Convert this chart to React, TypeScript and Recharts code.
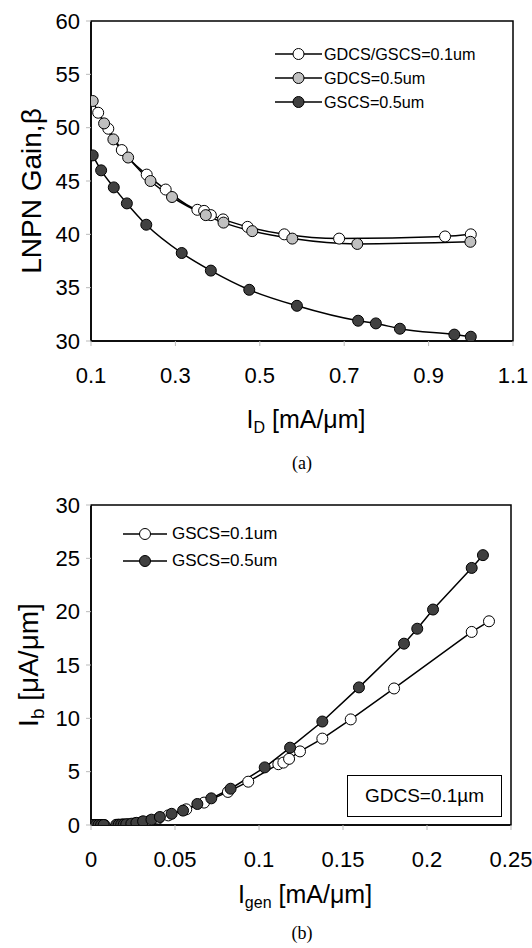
import React from 'react';
import { LineChart, Line, XAxis, YAxis, ReferenceArea, Legend } from 'recharts';

// ---------- Chart (a) data ----------
const aWhiteX = [0.117, 0.141, 0.173, 0.232, 0.277, 0.352, 0.368, 0.384, 0.413, 0.471, 0.558, 0.688, 0.939, 1.0];
const aWhiteY = [51.4, 49.9, 47.9, 45.6, 44.2, 42.3, 42.2, 41.8, 41.4, 40.7, 40.0, 39.6, 39.8, 40.0];
const aGrayX = [0.104, 0.131, 0.153, 0.188, 0.241, 0.292, 0.372, 0.414, 0.482, 0.577, 0.731, 0.999];
const aGrayY = [52.5, 50.4, 48.9, 47.2, 45.0, 43.5, 41.8, 41.1, 40.3, 39.6, 39.1, 39.3];
const aDarkX = [0.104, 0.124, 0.154, 0.185, 0.231, 0.315, 0.384, 0.475, 0.588, 0.733, 0.775, 0.832, 0.961, 1.0];
const aDarkY = [47.4, 46.0, 44.4, 42.9, 40.9, 38.25, 36.6, 34.8, 33.3, 31.9, 31.65, 31.15, 30.6, 30.4];
const aXTicks = [0.1, 0.3, 0.5, 0.7, 0.9, 1.1];
const aYTicks = [30, 35, 40, 45, 50, 55, 60];
const aLegend = ['GDCS/GSCS=0.1um', 'GDCS=0.5um', 'GSCS=0.5um'];

// ---------- Chart (b) data ----------
const bWhiteX = [0, 0.002, 0.004, 0.006, 0.008, 0.016, 0.019, 0.022, 0.026, 0.030, 0.035, 0.040, 0.046, 0.0567, 0.0673, 0.0815, 0.0936, 0.1115, 0.1145, 0.1179, 0.1244, 0.1377, 0.1546, 0.1804, 0.2266, 0.2369];
const bWhiteY = [0, 0, 0, 0, 0, 0.02, 0.04, 0.07, 0.15, 0.25, 0.4, 0.6, 0.9, 1.47, 2.1, 3.1, 4.06, 5.7, 5.85, 6.2, 6.9, 8.1, 9.9, 12.8, 18.1, 19.1];
const bDarkX = [0, 0.0015, 0.003, 0.0045, 0.006, 0.0075, 0.015, 0.0165, 0.018, 0.0195, 0.021, 0.024, 0.027, 0.031, 0.036, 0.041, 0.048, 0.0548, 0.0633, 0.0716, 0.0831, 0.1034, 0.1185, 0.1377, 0.1595, 0.1863, 0.1942, 0.2036, 0.2266, 0.2333];
const bDarkY = [0, 0, 0, 0, 0, 0, 0.02, 0.03, 0.04, 0.05, 0.07, 0.12, 0.2, 0.35, 0.5, 0.75, 1.05, 1.35, 1.97, 2.5, 3.4, 5.4, 7.25, 9.7, 12.9, 17.0, 18.4, 20.2, 24.1, 25.3];
const bXTicks = [0, 0.05, 0.1, 0.15, 0.2, 0.25];
const bYTicks = [0, 5, 10, 15, 20, 25, 30];
const bLegend = ['GSCS=0.1um', 'GSCS=0.5um'];
const bNote = 'GDCS=0.1\u00b5m';

const zip = (xs: number[], ys: number[]) => xs.map((x, i) => ({ x, y: ys[i] }));

const FONT = '"Liberation Sans", Arial, sans-serif';
const SERIF = '"Liberation Serif", "Times New Roman", serif';
const WHITE = '#ffffff';
const GRAY = '#c0c0c0';
const DARK = '#404040';

const xTickStyle = { fontSize: 22, fill: '#000', fontFamily: FONT };
const yTickStyle = { fontSize: 22, fill: '#000', fontFamily: FONT };

function LegendBox({ items, fills, lineW, gap, rowH, fontSize }: any) {
  return (
    <div style={{ fontFamily: FONT, fontSize, color: '#000' }}>
      {items.map((t: string, i: number) => (
        <div key={t} style={{ display: 'flex', alignItems: 'center', height: rowH }}>
          <svg width={lineW} height={14} style={{ display: 'block' }}>
            <line x1={0} y1={7} x2={lineW} y2={7} stroke="#000" strokeWidth={1.5} />
            <circle cx={lineW / 2} cy={7} r={5.5} fill={fills[i]} stroke="#000" strokeWidth={1} />
          </svg>
          <span style={{ marginLeft: gap, whiteSpace: 'nowrap' }}>{t}</span>
        </div>
      ))}
    </div>
  );
}

function XTitle({ viewBox, main, sub, rest, dy }: any) {
  const cx = viewBox.x + viewBox.width / 2 + 4;
  const y = viewBox.y + dy;
  return (
    <text x={cx} y={y} textAnchor="middle" fontFamily={FONT} fontSize={25} fill="#000">
      {main}
      {sub ? <tspan fontSize={16} dy={5}>{sub}</tspan> : null}
      {sub ? <tspan dy={-5}>{rest}</tspan> : <tspan>{rest}</tspan>}
    </text>
  );
}

function YTitle({ viewBox, main, sub, rest, cx, cyOff }: any) {
  const cy = viewBox.y + viewBox.height / 2 + cyOff;
  return (
    <text x={0} y={0} transform={`translate(${cx},${cy}) rotate(-90)`} textAnchor="middle" fontFamily={FONT} fontSize={28} fill="#000">
      {main}
      {sub ? <tspan fontSize={19} dy={6}>{sub}</tspan> : null}
      {sub ? <tspan dy={-6}>{rest}</tspan> : <tspan>{rest}</tspan>}
    </text>
  );
}

const dotStyle = (fill: string) => ({ r: 5.5, fill, stroke: '#000', strokeWidth: 1 });

export default function App() {
  return (
    <div style={{ position: 'absolute', left: 0, top: 0, width: 532, height: 948, background: '#fff' }}>
      {/* Chart (a) */}
      <div style={{ position: 'absolute', left: 0, top: 0 }}>
        <LineChart width={532} height={450} margin={{ top: 21, right: 19, left: 0, bottom: 19 }}>
          <XAxis
            type="number"
            dataKey="x"
            domain={[0.1, 1.1]}
            ticks={aXTicks}
            tickFormatter={(v: number) => String(Math.round(v * 10) / 10)}
            height={90}
            tick={xTickStyle}
            tickSize={5}
            tickMargin={21}
            tickLine={{ stroke: '#bbb' }}
            axisLine={{ stroke: '#000', strokeWidth: 1.5 }}
            allowDataOverflow
            label={{ content: (p: any) => <XTitle viewBox={p.viewBox} main="I" sub="D" rest=" [mA/μm]" dy={87} /> }}
          />
          <YAxis
            type="number"
            dataKey="y"
            domain={[30, 60]}
            ticks={aYTicks}
            width={91}
            tick={yTickStyle}
            tickSize={5}
            tickMargin={6}
            tickLine={{ stroke: '#bbb' }}
            axisLine={{ stroke: '#000', strokeWidth: 1.5 }}
            allowDataOverflow
            label={{ content: (p: any) => <YTitle viewBox={p.viewBox} main="LNPN Gain,β" cx={41} cyOff={10} /> }}
          />
          <ReferenceArea x1={0.1} x2={1.1} y1={30} y2={60} fill="none" stroke="#000" strokeWidth={1.5} />
          <Line data={zip(aWhiteX, aWhiteY)} dataKey="y" type="monotone" stroke="#000" strokeWidth={1.5} dot={dotStyle(WHITE)} isAnimationActive={false} />
          <Line data={zip(aGrayX, aGrayY)} dataKey="y" type="monotone" stroke="#000" strokeWidth={1.5} dot={dotStyle(GRAY)} isAnimationActive={false} />
          <Line data={zip(aDarkX, aDarkY)} dataKey="y" type="monotone" stroke="#000" strokeWidth={1.5} dot={dotStyle(DARK)} isAnimationActive={false} />
          <Legend
            layout="horizontal"
            verticalAlign="middle"
            wrapperStyle={{ left: 275, top: 42, width: 'auto' }}
            content={() => <LegendBox items={aLegend} fills={[WHITE, GRAY, DARK]} lineW={47} gap={2} rowH={24} fontSize={16.2} />}
          />
        </LineChart>
      </div>
      <div style={{ position: 'absolute', left: 0, width: 532, top: 453, textAlign: 'center', fontFamily: SERIF, fontSize: 18, paddingLeft: 72, boxSizing: 'border-box' }}>
        (a)
      </div>

      {/* Chart (b) */}
      <div style={{ position: 'absolute', left: 0, top: 470 }}>
        <LineChart width={532} height={450} margin={{ top: 35, right: 21, left: 0, bottom: 15 }}>
          <XAxis
            type="number"
            dataKey="x"
            domain={[0, 0.25]}
            ticks={bXTicks}
            tickFormatter={(v: number) => String(Math.round(v * 100) / 100)}
            height={80}
            tick={xTickStyle}
            tickSize={5}
            tickMargin={21}
            tickLine={{ stroke: '#bbb' }}
            axisLine={{ stroke: '#000', strokeWidth: 1.5 }}
            allowDataOverflow
            label={{ content: (p: any) => <XTitle viewBox={p.viewBox} main="I" sub="gen" rest=" [mA/μm]" dy={78} /> }}
          />
          <YAxis
            type="number"
            dataKey="y"
            domain={[0, 30]}
            ticks={bYTicks}
            width={91}
            tick={yTickStyle}
            tickSize={5}
            tickMargin={6}
            tickLine={{ stroke: '#bbb' }}
            axisLine={{ stroke: '#000', strokeWidth: 1.5 }}
            allowDataOverflow
            label={{ content: (p: any) => <YTitle viewBox={p.viewBox} main="I" sub="b" rest=" [μA/μm]" cx={38} cyOff={0} /> }}
          />
          <ReferenceArea x1={0} x2={0.25} y1={0} y2={30} fill="none" stroke="#000" strokeWidth={1.5} />
          <Line data={zip(bWhiteX, bWhiteY)} dataKey="y" type="linear" stroke="#000" strokeWidth={1.5} dot={dotStyle(WHITE)} isAnimationActive={false} />
          <Line data={zip(bDarkX, bDarkY)} dataKey="y" type="linear" stroke="#000" strokeWidth={1.5} dot={dotStyle(DARK)} isAnimationActive={false} />
          <Legend
            layout="horizontal"
            verticalAlign="middle"
            wrapperStyle={{ left: 123, top: 50, width: 'auto' }}
            content={() => <LegendBox items={bLegend} fills={[WHITE, DARK]} lineW={44} gap={5} rowH={27} fontSize={17} />}
          />
        </LineChart>
      </div>
      <div style={{ position: 'absolute', left: 347, top: 775, width: 155, height: 42, border: '1.5px solid #000', boxSizing: 'border-box', display: 'flex', alignItems: 'center', justifyContent: 'center', fontFamily: FONT, fontSize: 19, background: '#fff' }}>
        {bNote}
      </div>
      <div style={{ position: 'absolute', left: 0, width: 532, top: 923, textAlign: 'center', fontFamily: SERIF, fontSize: 18, paddingLeft: 72, boxSizing: 'border-box' }}>
        (b)
      </div>
    </div>
  );
}
